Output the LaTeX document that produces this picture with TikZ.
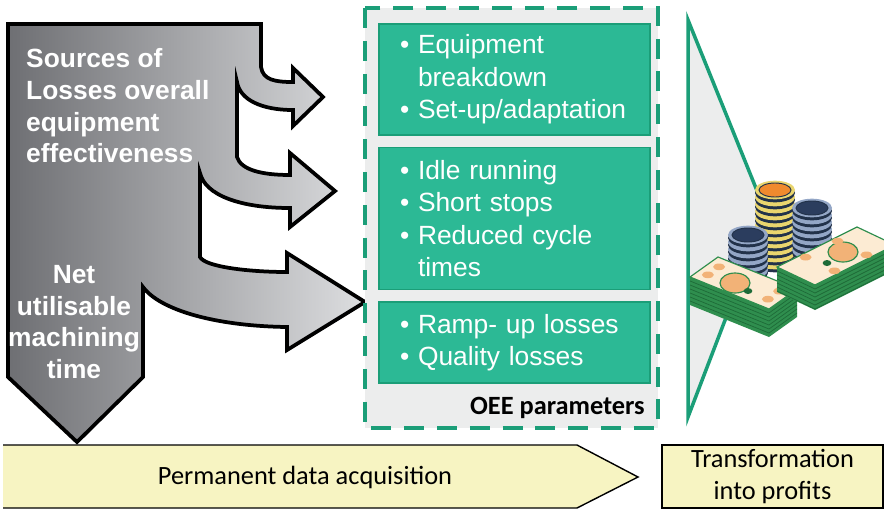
\documentclass[tikz,border=0pt]{standalone}
\usepackage{fontspec}
\setmainfont{Liberation Sans}
\newfontfamily\calibri{Carlito}
\usetikzlibrary{positioning}

\definecolor{oeegreen}{HTML}{1B9E78}
\definecolor{oeefill}{HTML}{2CB995}
\definecolor{panelgrey}{HTML}{ECEDED}
\definecolor{greydark}{HTML}{6E6F73}
\definecolor{greylight}{HTML}{DDDEE0}
\definecolor{paleyellow}{HTML}{F7F4C2}
\definecolor{coingold}{HTML}{E9D56E}
\definecolor{coinorange}{HTML}{F08A2E}
\definecolor{coinblue}{HTML}{93A6C6}
\definecolor{coinnavy}{HTML}{2B3D5E}
\definecolor{coindark}{HTML}{22324A}
\definecolor{billgreen}{HTML}{2F8E4E}
\definecolor{billdark}{HTML}{1E6B38}
\definecolor{billface}{HTML}{FCEBD3}
\definecolor{billoval}{HTML}{F2B277}

\newcommand{\oeeitem}{\textbullet\ }
\newcommand{\oeeindent}{\phantom{\textbullet\ }}

\begin{document}
\begin{tikzpicture}[
    x=0.3mm, y=-0.3mm,
    node distance=3.2mm,
    lossarrow/.style={draw=black, line width=3.2pt, left color=greydark, right color=greylight},
    losstext/.style={text=white, inner sep=0pt, font=\bfseries\fontsize{22.5}{27}\selectfont},
    oeeframe/.style={draw=oeegreen, fill=panelgrey, line width=3pt, dash pattern=on 17pt off 11pt},
    oeebox/.style={draw=oeegreen, fill=oeefill, line width=1.5pt, text=white, align=left,
      text width=68.7mm, inner xsep=6.3mm, minimum width=81.3mm,
      font=\fontsize{22.5}{27.6}\selectfont},
    yellowbox/.style={fill=paleyellow, draw=black, line width=1.2pt},
    calibritext/.style={font=\calibri\fontsize{22.5}{27}\selectfont}
]
  \useasboundingbox (0,0) rectangle (884,509);

  % Grey arrow splitting into the three loss arrows
  \draw[lossarrow] (8,24) -- (261,24) -- (261,67)
    .. controls (263,80) and (275,82) .. (293,82) -- (293,68) -- (323,97) -- (293,126) -- (293,110)
    .. controls (262,110) and (240,100) .. (237,82) -- (237,157)
    .. controls (241,170) and (262,175) .. (290,175) -- (290,153) -- (335,191) -- (290,227) -- (290,208)
    .. controls (240,208) and (205,195) .. (200,173) -- (200,257)
    .. controls (205,267) and (250,272) .. (287,272) -- (287,253) -- (365,302) -- (287,350) -- (287,327)
    .. controls (215,326) and (160,310) .. (143,287) -- (143,377) -- (77,442) -- (8,377) -- cycle;
  \node[losstext, anchor=west, align=left] (sources) at (26,106)
    {Sources of\\Losses overall\\equipment\\effectiveness};
  \node[losstext, align=center] (nettime) at (74,322)
    {Net\\utilisable\\machining\\time};

  % OEE parameter panel
  \draw[oeeframe] (365,8) rectangle (658,428);
  \node[oeebox, minimum height=33.3mm] (avail) at (514.5,79.5)
    {\oeeitem Equipment\\\oeeindent breakdown\\\oeeitem Set-up/adaptation};
  \node[oeebox, minimum height=42.6mm, below=of avail] (perf)
    {\oeeitem Idle running\\\oeeitem Short stops\\\oeeitem Reduced cycle\\\oeeindent times};
  \node[oeebox, minimum height=24.3mm, below=of perf] (qual)
    {\oeeitem Ramp- up losses\\\oeeitem Quality losses};
  \node[calibritext, font=\calibri\bfseries\fontsize{22.5}{27}\selectfont, anchor=east, inner sep=0pt]
    (oeelabel) at (645,408) {OEE parameters};

  % Funnel towards the money
  \draw[draw=oeegreen, fill=panelgrey, line width=3pt] (688,20) -- (766,213) -- (688,417) -- cycle;

  \begin{scope}
    \clip (0,0) rectangle (884,509);
    % coin stacks
    \foreach \cx/\cy/\n/\rim/\face in {775/260/10/coingold/coinorange, 748/270/5/coinblue/coinnavy, 812/250/6/coinblue/coinnavy}{
      \foreach \k in {0,...,\n}{
        \fill[coindark] (\cx,\cy-7*\k+3) ellipse [x radius=6mm, y radius=2.8mm];
        \fill[\rim] (\cx,\cy-7*\k) ellipse [x radius=6mm, y radius=2.8mm];
      }
      \filldraw[fill=\face, draw=coindark, line width=0.8pt] (\cx,\cy-7*\n) ellipse [x radius=4.8mm, y radius=2.1mm];
    }
    % bundles of notes
    \foreach \ax/\ay/\bx/\by/\dx/\dy/\t/\mx/\my/\ox/\oy in {690/277/718/257/769/309/28/735/283/748/291, 777/267/857/227/815/285/25/843/252/827/263}{
      \fill[billgreen] (\ax,\ay) -- (\dx,\dy) -- (\bx+\dx-\ax,\by+\dy-\ay) -- (\bx+\dx-\ax,\by+\dy-\ay+\t)
        -- (\dx,\dy+\t) -- (\ax,\ay+\t) -- cycle;
      \foreach \s in {4,8,...,24}
        \draw[billdark, line width=0.6pt] (\ax,\ay+\s) -- (\dx,\dy+\s) -- (\bx+\dx-\ax,\by+\dy-\ay+\s);
      \filldraw[fill=billface, draw=billgreen, line width=1pt] (\ax,\ay) -- (\bx,\by) -- (\bx+\dx-\ax,\by+\dy-\ay) -- (\dx,\dy) -- cycle;
      \filldraw[fill=billoval, draw=billgreen, line width=1pt] (\mx,\my) ellipse [x radius=4.5mm, y radius=3mm];
      \fill[billdark] (\ox,\oy) ellipse [x radius=1.3mm, y radius=0.9mm];
      \foreach \u/\v in {0.3/0.12, 0.7/0.12, 0.3/0.88, 0.7/0.88}
        \fill[billoval] ({\ax+\u*(\bx-\ax)+\v*(\dx-\ax)},{\ay+\u*(\by-\ay)+\v*(\dy-\ay)}) ellipse [x radius=1.8mm, y radius=1mm];
    }
  \end{scope}

  % Bottom row
  \fill[paleyellow] (3,445) -- (577,445) -- (638,477) -- (577,508) -- (3,508) -- cycle;
  \draw[line width=1.2pt] (3,445) -- (577,445) -- (638,477) -- (577,508) -- (3,508);
  \node[calibritext] (acq) at (305,477) {Permanent data acquisition};
  \node[yellowbox, calibritext, align=center, minimum width=66.3mm, minimum height=18.9mm, inner sep=0pt]
    (profit) at (772.5,476.5) {Transformation\\into profits};
\end{tikzpicture}
\end{document}
